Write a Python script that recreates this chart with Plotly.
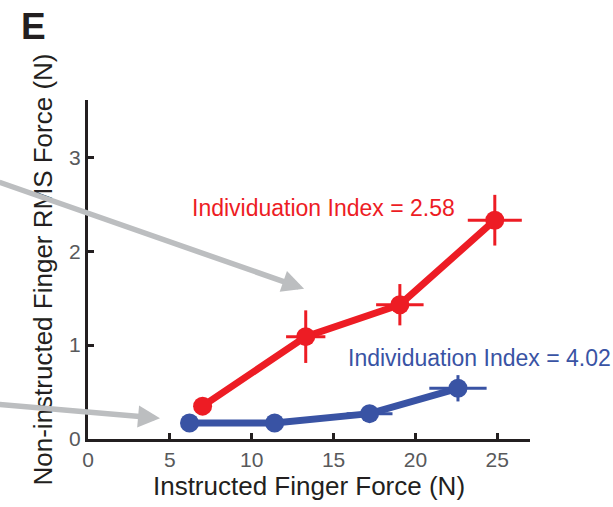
import plotly.graph_objects as go

# Instructed-finger force (N) vs non-instructed finger RMS force (N)
red_x = [7.0, 13.3, 19.05, 24.85]
red_y = [0.35, 1.09, 1.43, 2.33]
red_xerr = [0.5, 1.2, 1.45, 1.65]
red_yerr = [0.06, 0.28, 0.22, 0.27]

blue_x = [6.2, 11.4, 17.2, 22.6]
blue_y = [0.17, 0.17, 0.27, 0.54]
blue_xerr = [0.4, 0.5, 1.4, 1.75]
blue_yerr = [0.03, 0.03, 0.06, 0.14]

red_label = "Individuation Index = 2.58"
blue_label = "Individuation Index = 4.02"

x_ticks = [0, 5, 10, 15, 20, 25]
y_ticks = [0, 1, 2, 3]

RED = "#ed1c24"
BLUE = "#3953a4"
GREY = "#bcbec0"
INK = "#231f20"
FONT = "Arial, Liberation Sans, sans-serif"

fig = go.Figure()

fig.add_trace(go.Scatter(
    x=red_x, y=red_y, mode="lines+markers",
    line=dict(color=RED, width=7),
    marker=dict(color=RED, size=19),
    error_x=dict(type="data", array=red_xerr, color=RED, thickness=3, width=0),
    error_y=dict(type="data", array=red_yerr, color=RED, thickness=3, width=0),
    showlegend=False,
))

fig.add_trace(go.Scatter(
    x=blue_x, y=blue_y, mode="lines+markers",
    line=dict(color=BLUE, width=7),
    marker=dict(color=BLUE, size=19),
    error_x=dict(type="data", array=blue_xerr, color=BLUE, thickness=3, width=0),
    error_y=dict(type="data", array=blue_yerr, color=BLUE, thickness=3, width=0),
    showlegend=False,
))

annotations = [
    dict(x=14.37, y=2.46, xref="x", yref="y", text=red_label, showarrow=False,
         xanchor="center", yanchor="middle",
         font=dict(family=FONT, size=23, color=RED)),
    dict(x=23.9, y=0.86, xref="x", yref="y", text=blue_label, showarrow=False,
         xanchor="center", yanchor="middle",
         font=dict(family=FONT, size=23, color=BLUE)),
    # grey pointer arrows coming in from the left
    dict(x=13.2, y=1.6, ax=-5.5, ay=2.74, xref="x", yref="y", axref="x", ayref="y",
         text="", showarrow=True, arrowhead=2, arrowsize=0.8, arrowwidth=5.5,
         arrowcolor=GREY, standoff=0),
    dict(x=4.4, y=0.22, ax=-5.5, ay=0.37, xref="x", yref="y", axref="x", ayref="y",
         text="", showarrow=True, arrowhead=2, arrowsize=0.8, arrowwidth=5.5,
         arrowcolor=GREY, standoff=0),
    # panel letter
    dict(x=-0.124, y=1.216, xref="paper", yref="paper", text="<b>E</b>",
         xanchor="center", yanchor="middle",
         showarrow=False, font=dict(family=FONT, size=37, color=INK)),
]

axis_common = dict(
    showline=True, linewidth=3, linecolor=INK,
    ticks="inside", ticklen=6, tickwidth=2.5, tickcolor=INK,
    showgrid=False, zeroline=False,
    tickfont=dict(family=FONT, size=21, color="#58595b"),
)

fig.update_layout(
    width=613, height=507,
    margin=dict(l=88, r=83, t=100, b=64),
    paper_bgcolor="white", plot_bgcolor="white",
    xaxis=dict(range=[0, 27.0], tickvals=x_ticks,
               title=dict(text="Instructed Finger Force (N)", standoff=6,
                          font=dict(family=FONT, size=26, color=INK)),
               **axis_common),
    yaxis=dict(range=[0, 3.61], tickvals=y_ticks,
               title=dict(text="Non-instructed Finger RMS Force (N)", standoff=10,
                          font=dict(family=FONT, size=26, color=INK)),
               **axis_common),
    annotations=annotations,
)

fig.write_html("out.html")
